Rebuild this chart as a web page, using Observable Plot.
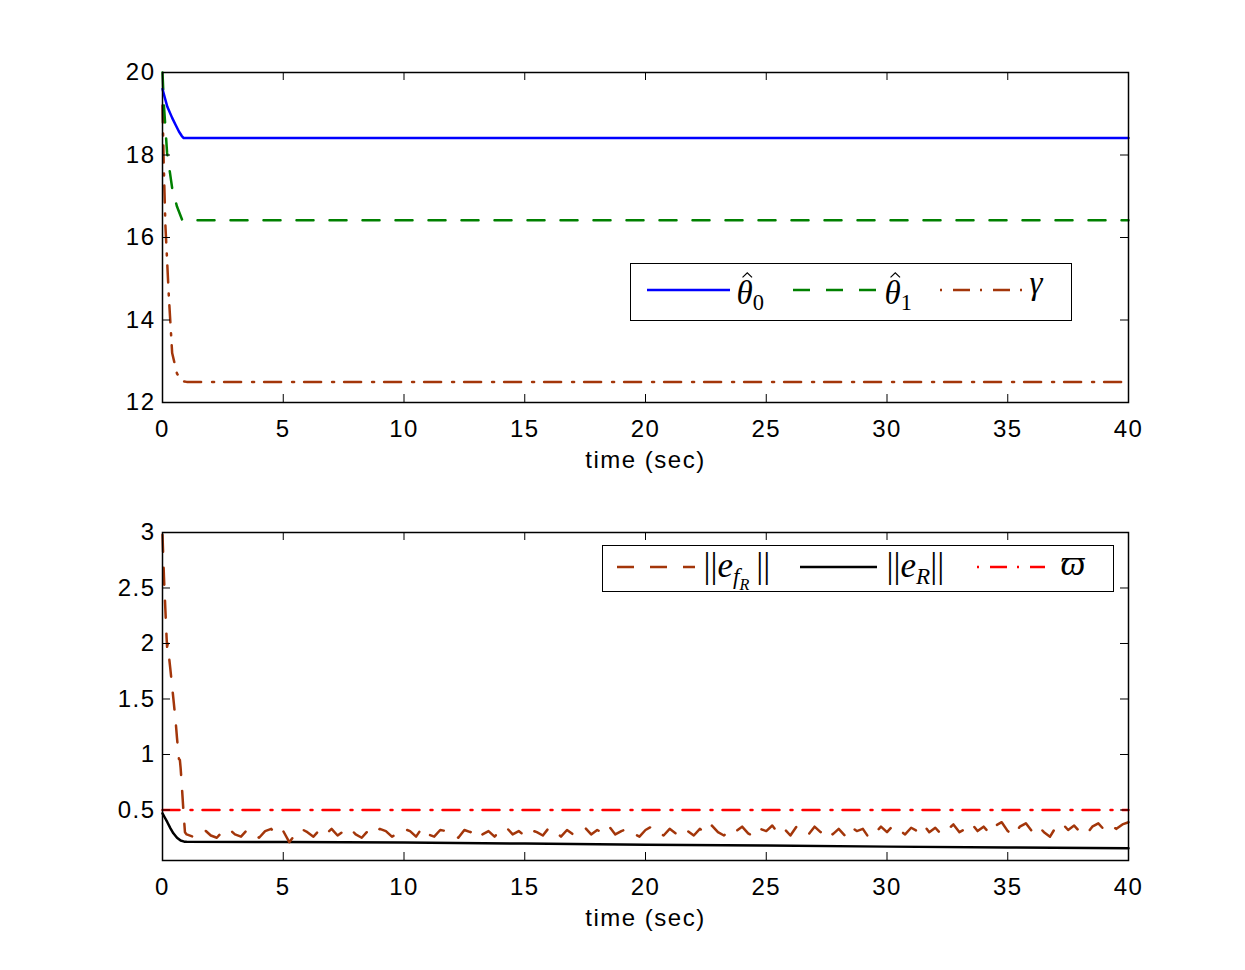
<!DOCTYPE html>
<html><head><meta charset="utf-8">
<script src="https://cdn.jsdelivr.net/npm/d3@7"></script>
<script src="https://cdn.jsdelivr.net/npm/@observablehq/plot@0.6"></script>
<style>
body{margin:0;background:#fff;}
#wrap{position:relative;width:1245px;height:970px;background:#fff;overflow:hidden;}
.pl{position:absolute;left:0;}
.legend{position:absolute;border:1.5px solid #000;background:#fff;box-sizing:border-box;}
.legend > svg{position:absolute;left:-1.5px;top:-1.5px;overflow:visible;}
.lt{position:absolute;font-family:"Liberation Serif","DejaVu Serif",serif;line-height:1;white-space:nowrap;color:#000;}
.it{font-style:italic;}
.hat{position:relative;display:inline-block;font-style:italic;}
.hat svg{position:absolute;left:0.17em;top:-0.14em;width:0.32em;height:0.18em;overflow:visible;}
.s1{font-size:0.68em;vertical-align:-0.28em;font-style:normal;}
.sf{font-size:0.66em;vertical-align:-0.3em;font-style:italic;}
.sr{font-size:0.7em;vertical-align:-0.35em;font-style:italic;}
.bar{font-style:normal;}
</style></head><body><div id="wrap"></div>
<script>
// ---------- data ----------
const xTicks = [0, 5, 10, 15, 20, 25, 30, 35, 40];
const topYTicks = [12, 14, 16, 18, 20];
const botYTicks = [0.5, 1, 1.5, 2, 2.5, 3];

// top panel
const theta0Time = [0, 0.1, 0.2, 0.4, 0.55, 0.68, 0.8, 0.88, 40];
const theta0Val  = [19.6, 19.38, 19.17, 18.9, 18.72, 18.57, 18.46, 18.41, 18.41];
const theta1Time = [0, 0.06, 0.19, 0.4, 0.6, 0.82, 40];
const theta1Val  = [20, 19.2, 18.05, 17.2, 16.75, 16.42, 16.42];
const gammaTime  = [0, 0.05, 0.12, 0.26, 0.4, 0.6, 0.81, 1.0, 40];
const gammaVal   = [19.2, 17.8, 16.3, 14.6, 13.2, 12.7, 12.52, 12.5, 12.5];

// bottom panel
const efrHeadTime = [0, 0.06, 0.12, 0.17, 0.19, 0.22, 0.25, 0.32, 0.4, 0.47, 0.54, 0.6, 0.68, 0.72, 0.75, 0.8, 0.87, 0.93, 1.0];
const efrHeadVal  = [2.98, 2.6, 2.3, 2.05, 1.97, 2.0, 1.92, 1.78, 1.61, 1.46, 1.31, 1.15, 0.96, 0.95, 0.88, 0.72, 0.48, 0.3, 0.28];
const efrTailStep = 0.25; // samples from t = 1.25 to 40
const efrTailVal = [
  0.26, 0.30, 0.32, 0.27, 0.25, 0.31, 0.33, 0.28,
  0.26, 0.32, 0.29, 0.25, 0.31, 0.33, 0.27, 0.31,
  0.21, 0.28, 0.33, 0.30, 0.26, 0.32, 0.28, 0.33,
  0.27, 0.31, 0.34, 0.28, 0.25, 0.31, 0.28, 0.33,
  0.31, 0.26, 0.29, 0.33, 0.31, 0.26, 0.34, 0.28,
  0.26, 0.32, 0.31, 0.28, 0.25, 0.32, 0.30, 0.34,
  0.28, 0.31, 0.26, 0.32, 0.34, 0.28, 0.31, 0.27,
  0.32, 0.30, 0.27, 0.34, 0.31, 0.26, 0.32, 0.28,
  0.30, 0.34, 0.28, 0.32, 0.29, 0.35, 0.28, 0.31,
  0.33, 0.29, 0.26, 0.32, 0.35, 0.30, 0.27, 0.33,
  0.29, 0.34, 0.31, 0.27, 0.33, 0.29, 0.36, 0.30,
  0.27, 0.33, 0.31, 0.35, 0.29, 0.26, 0.33, 0.31,
  0.36, 0.29, 0.33, 0.27, 0.35, 0.31, 0.28, 0.35,
  0.30, 0.34, 0.28, 0.33, 0.27, 0.35, 0.31, 0.33,
  0.25, 0.29, 0.35, 0.30, 0.36, 0.32, 0.28, 0.34,
  0.31, 0.37, 0.30, 0.34, 0.28, 0.32, 0.37, 0.30,
  0.33, 0.38, 0.31, 0.35, 0.29, 0.36, 0.39, 0.31,
  0.27, 0.35, 0.38, 0.31, 0.36, 0.30, 0.26, 0.35,
  0.38, 0.32, 0.36, 0.30, 0.28, 0.35, 0.38, 0.32,
  0.36, 0.33, 0.37, 0.39
];
const eRTime = [0, 0.1, 0.2, 0.33, 0.45, 0.6, 0.75, 0.9, 1.0, 5, 10, 15, 20, 25, 30, 35, 40];
const eRVal  = [0.47, 0.43, 0.39, 0.335, 0.29, 0.25, 0.225, 0.215, 0.214, 0.212, 0.207, 0.198, 0.188, 0.18, 0.17, 0.162, 0.155];
const varpiTime = [0, 40];
const varpiVal  = [0.5, 0.5];

// ---------- helpers ----------
const pts = (T, V) => T.map((t, i) => ({t, v: V[i]}));
const efrTailTime = efrTailVal.map((_, i) => 1 + efrTailStep * (i + 1));
const efr = pts(efrHeadTime.concat(efrTailTime), efrHeadVal.concat(efrTailVal));

const BROWN = "#a3360a", GREEN = "#008000", BLUE = "#0000ff", RED = "#ff0000";
const DASH = "17,16", DASHDOT = "17,11,2,10";
const SW = 2.5;

function panel({lines, yDomain, yTicks, marginTop, marginBottom}) {
  const W = 1245, H = 485, ML = 162, MR = 117, tk = 8;
  const innerH = H - marginTop - marginBottom, innerW = W - ML - MR;
  return Plot.plot({
    width: W, height: H, marginLeft: ML, marginRight: MR, marginTop, marginBottom,
    style: {fontFamily: "Liberation Sans, Arial, sans-serif", fontSize: "24px", letterSpacing: "1.5px", background: "white", color: "black", overflow: "visible"},
    x: {domain: [0, 40]},
    y: {domain: yDomain},
    marks: [
      ...lines,
      Plot.ruleX(xTicks, {x: d => d, insetTop: innerH - tk, stroke: "black", strokeWidth: 1}),
      Plot.ruleX(xTicks, {x: d => d, insetBottom: innerH - tk, stroke: "black", strokeWidth: 1}),
      Plot.ruleY(yTicks, {y: d => d, insetRight: innerW - tk, stroke: "black", strokeWidth: 1}),
      Plot.ruleY(yTicks, {y: d => d, insetLeft: innerW - tk, stroke: "black", strokeWidth: 1}),
      Plot.frame({stroke: "black", strokeWidth: 1.5}),
      Plot.axisX({ticks: xTicks, tickSize: 0, tickPadding: 17, tickFormat: d => String(d), label: null}),
      Plot.axisY({ticks: yTicks, tickSize: 0, tickPadding: 7, tickFormat: d => String(d), label: null}),
      Plot.text(["time (sec)"], {text: d => d, frameAnchor: "bottom", dy: 58, lineAnchor: "middle", fill: "black"})
    ]
  });
}

const wrap = document.getElementById("wrap");

const p1 = panel({
  yDomain: [12, 20], yTicks: topYTicks, marginTop: 72, marginBottom: 83,
  lines: [
    Plot.line(pts(gammaTime, gammaVal), {x: "t", y: "v", stroke: BROWN, strokeWidth: SW, strokeDasharray: DASHDOT}),
    Plot.line(pts(theta1Time, theta1Val), {x: "t", y: "v", stroke: GREEN, strokeWidth: SW, strokeDasharray: DASH}),
    Plot.line(pts(theta0Time, theta0Val), {x: "t", y: "v", stroke: BLUE, strokeWidth: SW})
  ]
});
p1.classList.add("pl"); p1.style.top = "0px";
wrap.appendChild(p1);

const p2 = panel({
  yDomain: [0.045, 3], yTicks: botYTicks, marginTop: 47, marginBottom: 110,
  lines: [
    Plot.line(pts(varpiTime, varpiVal), {x: "t", y: "v", stroke: RED, strokeWidth: SW, strokeDasharray: DASHDOT}),
    Plot.line(pts(eRTime, eRVal), {x: "t", y: "v", stroke: "black", strokeWidth: SW}),
    Plot.line(efr, {x: "t", y: "v", stroke: BROWN, strokeWidth: SW, strokeDasharray: DASH})
  ]
});
p2.classList.add("pl"); p2.style.top = "485px";
wrap.appendChild(p2);

// ---------- legends ----------
function legend(box, samples, texts, fontSize) {
  const d = document.createElement("div");
  d.className = "legend";
  Object.assign(d.style, {left: box[0] + "px", top: box[1] + "px", width: box[2] + "px", height: box[3] + "px"});
  let svg = `<svg width="${box[2]}" height="${box[3]}">`;
  for (const s of samples) {
    svg += `<line x1="${s.x1 - box[0]}" x2="${s.x2 - box[0]}" y1="${s.y - box[1]}" y2="${s.y - box[1]}" stroke="${s.color}" stroke-width="${SW}" ${s.dash ? `stroke-dasharray="${s.dash}"` : ""}/>`;
  }
  svg += `</svg>`;
  d.innerHTML = svg;
  for (const t of texts) {
    const s = document.createElement("div");
    s.className = "lt";
    s.style.fontSize = fontSize + "px";
    s.style.left = (t.x - box[0] - 1.5) + "px";
    // baseline -> top of line box (line-height 1, Liberation Serif ascent .891, descent .216)
    s.style.top = (t.base - box[1] - 1.5 - 0.8375 * fontSize) + "px";
    s.innerHTML = t.html;
    d.appendChild(s);
  }
  wrap.appendChild(d);
}

// circumflex accent drawn as a small path above the glyph
const HAT = `<svg viewBox="0 0 10 6" preserveAspectRatio="none"><polyline points="0.5,5.5 5,0.8 9.5,5.5" fill="none" stroke="black" stroke-width="1.2" vector-effect="non-scaling-stroke"/></svg>`;

legend([630, 263, 442, 58],
  [
    {x1: 647, x2: 730, y: 290, color: BLUE},
    {x1: 793, x2: 876, y: 290, color: GREEN, dash: DASH},
    {x1: 940, x2: 1022, y: 290, color: BROWN, dash: "2,11,17,10"}
  ],
  [
    {x: 737, base: 305, html: `<span class="hat">θ${HAT}</span><span class="s1">0</span>`},
    {x: 885, base: 305, html: `<span class="hat">θ${HAT}</span><span class="s1">1</span>`},
    {x: 1030, base: 295, html: `<span class="it">γ</span>`}
  ], 33);

legend([602, 545, 512, 47],
  [
    {x1: 617, x2: 695, y: 567, color: BROWN, dash: DASH},
    {x1: 800, x2: 877, y: 567, color: "black"},
    {x1: 977, x2: 1045, y: 567, color: RED, dash: "2,11,17,10"}
  ],
  [
    {x: 704, base: 578, html: `<span class="bar">||</span><span class="it">e</span><span class="sf">f<span class="sr">R</span></span><span class="bar">&thinsp;||</span>`},
    {x: 887, base: 578, html: `<span class="bar">||</span><span class="it">e</span><span class="sf">R</span><span class="bar">||</span>`},
    {x: 1061, base: 576, html: `<span class="it">ϖ</span>`}
  ], 35);
</script></body></html>
